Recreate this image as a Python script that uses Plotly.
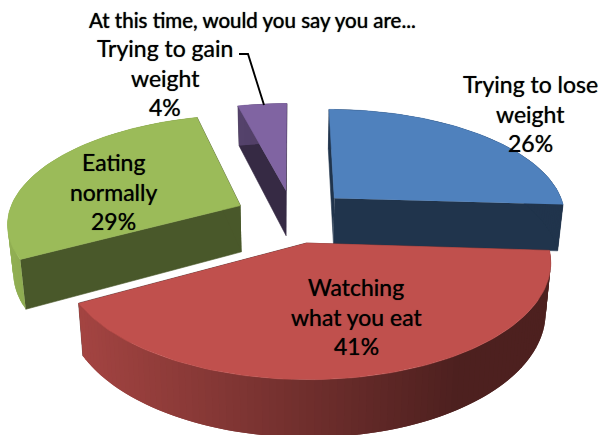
import numpy as np
import plotly.graph_objects as go

# ---- data ----
categories = ["Trying to lose weight", "Watching what you eat", "Eating normally", "Trying to gain weight"]
shares = [26, 41, 29, 4]
top_colors = ["#4F81BD", "#C0504D", "#9BBB59", "#8064A2"]
wall_shade = [0.40, 0.40, 0.47, 0.42]
title = "At this time, would you say you are..."
label_lines = [["Trying to lose", "weight", "26%"],
               ["Watching", "what you eat", "41%"],
               ["Eating", "normally", "29%"],
               ["Trying to gain", "weight", "4%"]]
label_centers = [(530, 84), (356, 287), (113, 162), (165, 48)]
leader_x = [239, 248, 264]
leader_y = [54, 54, 105]

# ---- projection of the tilted, exploded pie ----
W, H = 601, 435
CX, CY, A, B, K, EXPLODE, DEPTH, SHRINK = 293, 216, 232.5, 107, 0.15, 0.25, 47, 0.98
FONT = "Lato"
SHADOW = "0 0 0.8px rgba(0,0,0,0.75)"
TITLE_SHADOW = "0 0 1px rgba(0,0,0,0.95)"


def project(u, v, low=False):
    w = 1 + K * v
    x = CX + A * u / w
    y = CY - B * v / w
    if low:
        x = CX + (x - CX) * SHRINK
        y = y + DEPTH / w
    return x, y


def hexrgb(c):
    return tuple(int(c[i:i + 2], 16) for i in (1, 3, 5))


def shade(c, f):
    r, g, b = hexrgb(c)
    return f"rgb({r * f:.0f},{g * f:.0f},{b * f:.0f})"


def poly(fig, xs, ys, color, lw=0.6):
    fig.add_trace(go.Scatter(x=list(xs), y=list(ys), mode="lines", fill="toself",
                             fillcolor=color, line=dict(color=color, width=lw),
                             hoverinfo="skip", showlegend=False))


fig = go.Figure()
total = sum(shares)
edges = np.cumsum([0] + shares) / total * 2 * np.pi
draw_order = [3, 2, 0, 1]  # back to front

for i in draw_order:
    a0, a1 = edges[i], edges[i + 1]
    mid = (a0 + a1) / 2
    ou, ov = EXPLODE * np.sin(mid), EXPLODE * np.cos(mid)
    th = np.linspace(a0, a1, max(8, int(shares[i] * 2.4)))
    u = ou + np.sin(th)
    v = ov + np.cos(th)
    color = top_colors[i]
    flat = shade(color, wall_shade[i])
    # inner walls
    for ue, ve in ((u[0], v[0]), (u[-1], v[-1])):
        p = [project(ou, ov), project(ue, ve), project(ue, ve, True), project(ou, ov, True)]
        poly(fig, [q[0] for q in p], [q[1] for q in p], flat)
    # outer wall, shaded left to right; each strip overlaps the next so no seams show
    for j in range(len(th) - 1):
        k = min(j + 2, len(th) - 1)
        p = [project(u[j], v[j]), project(u[k], v[k]),
             project(u[k], v[k], True), project(u[j], v[j], True)]
        xm = (project(u[j], v[j])[0] + project(u[j + 1], v[j + 1])[0]) / 2
        if i == 0:
            f = wall_shade[i]
        else:
            f = max(0.40, 0.85 - 0.45 * (xm - 80) / 380)
        poly(fig, [q[0] for q in p], [q[1] for q in p], shade(color, f), lw=0)
    # top face
    px, py = project(np.r_[ou, u], np.r_[ov, v])
    poly(fig, px, py, color)

fig.add_trace(go.Scatter(x=leader_x, y=leader_y, mode="lines", line=dict(color="#000000", width=1.9),
                         hoverinfo="skip", showlegend=False))

fig.add_annotation(x=252, y=20, text=title, showarrow=False, xref="x", yref="y",
                   font=dict(family=FONT, size=20.5, color="#000000", shadow=TITLE_SHADOW))
for lines, (cx, cy) in zip(label_lines, label_centers):
    for n, line in enumerate(lines):
        fig.add_annotation(x=cx, y=cy + n * 29.7, text=line, showarrow=False, xref="x", yref="y",
                           font=dict(family=FONT, size=23, color="#000000", shadow=SHADOW))

fig.update_layout(width=W, height=H, margin=dict(l=0, r=0, t=0, b=0),
                  paper_bgcolor="white", plot_bgcolor="white", showlegend=False,
                  xaxis=dict(range=[0, W], visible=False, fixedrange=True),
                  yaxis=dict(range=[H, 0], visible=False, fixedrange=True))
fig.write_html("out.html", config={"displayModeBar": False},
               post_script="document.body.style.margin='0';")
